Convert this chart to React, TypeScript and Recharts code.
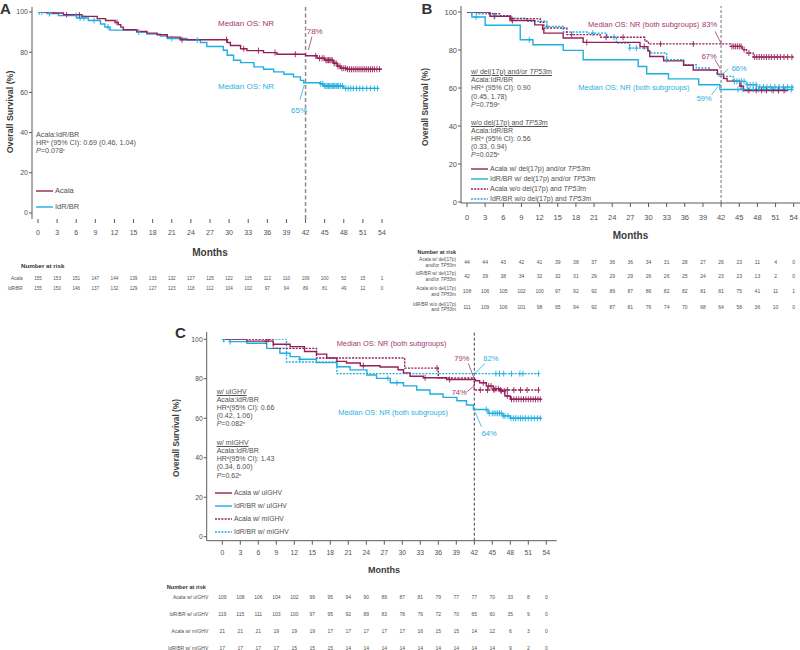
import React from "react";
import { LineChart, Line, XAxis, YAxis, ReferenceLine } from "recharts";

type Step = [number, number];
type Row = { t: number; s: number; c: boolean };

const FONT = '"Liberation Sans", Arial, Helvetica, sans-serif';
const PURPLE = "#951f58";
const CYAN = "#1eaee0";
const PURPLE_TXT = "#a2376b";
const CYAN_TXT = "#2aafe0";
const GRAY = "#505050";
const AXIS = "#5a5a5a";

const months = [0, 3, 6, 9, 12, 15, 18, 21, 24, 27, 30, 33, 36, 39, 42, 45, 48, 51, 54];
const survivalTicks = [0, 20, 40, 60, 80, 100];

// ---------- Panel A: all patients ----------
const acalaA: Step[] = [[0, 100], [2.4, 99.5], [4, 98.7], [6.9, 97.8], [9.3, 96.7], [10.6, 95.8], [12.1, 94.8], [12.6, 93.7], [13, 92.5], [13.4, 91.2], [15.5, 90.3], [17.1, 89.5], [18.7, 88.7], [20.3, 87.5], [22.3, 86.2], [29.7, 84.8], [30.2, 83.3], [31.8, 81.7], [32.8, 80.8], [35.4, 79.8], [37.5, 79], [42, 78.2], [43.8, 77], [45, 76], [46.4, 74.5], [47, 73], [47.5, 72], [48.5, 71.5]];
const acalaAEnd = 54.5;
const acalaACens = [4.5, 6.5, 12.4, 22.6, 29.6, 32.3, 34.6, 37.2, 40.4, 43.6, 44.2, 44.6, 44.9, 45.2, 45.4, 45.6, 45.8, 46.0, 46.2, 46.5, 46.8, 47.1, 47.4, 47.7, 48.0, 48.3, 48.6, 48.9, 49.2, 49.5, 49.8, 50.1, 50.4, 50.7, 51.0, 51.3, 51.6, 51.9, 52.2, 52.5, 52.8, 53.2, 53.6, 54.3];

const idrA: Step[] = [[0, 100], [1.4, 99.2], [3.2, 98.2], [6.1, 97], [7.9, 95.8], [9.8, 94], [10.5, 92.5], [11.3, 91], [15.5, 90], [17.1, 89], [19.2, 88], [20.3, 86.8], [23.4, 86], [25.5, 84.8], [26.5, 82.8], [29.1, 81], [29.7, 78.5], [30.7, 76], [31.8, 74.8], [33.9, 72.7], [35.4, 71.5], [37, 70.2], [38.6, 69], [40.1, 67.7], [41.2, 66], [41.7, 64.8], [44.3, 64.2], [44.8, 63.2], [48, 62]];
const idrAEnd = 53.5;
const idrACens = [0.2, 0.6, 1.8, 6.0, 6.6, 7.2, 8.8, 11.0, 15.8, 21.0, 25.0, 44.4, 44.7, 45.0, 45.2, 45.4, 45.6, 45.8, 46.0, 46.2, 46.4, 46.6, 46.8, 47.0, 47.2, 47.5, 47.8, 48.3, 48.7, 49.1, 49.5, 50.0, 50.5, 51.0, 51.6, 52.2, 52.8, 53.3];

const riskA = {
  Acala: [155, 153, 151, 147, 144, 139, 133, 132, 127, 125, 122, 115, 112, 110, 109, 100, 52, 15, 1],
  "IdR/BR": [155, 150, 146, 137, 132, 129, 127, 123, 118, 112, 104, 102, 97, 94, 89, 81, 49, 12, 0],
};

// ---------- Panel B: del(17p)/TP53m ----------
const acalaDel: Step[] = [[0, 100], [3.8, 97.7], [7.1, 95.5], [11.2, 93.2], [12.5, 90.9], [12.7, 88.9], [15.9, 86.3], [19.2, 84], [28.6, 81.8], [29.9, 79.5], [30.2, 76.6], [32.5, 74.3], [35.8, 72], [37.4, 69.5], [41.4, 67.3], [42.4, 65], [43, 63.6], [45.1, 61], [45.7, 58.7]];
const acalaDelEnd = 53.1;
const acalaDelCens = [4.5, 7.5, 19.8, 29.3, 45.3, 46.6, 47.8, 48.7, 49.5, 50.6, 51.5, 52.4];

const idrDel: Step[] = [[0, 100], [0.8, 97.4], [3, 93], [8.8, 85.4], [10.9, 82.8], [15.9, 79.8], [19.2, 74.9], [28.3, 71.3], [29.7, 67.5], [33.3, 64.8], [38.3, 61.7], [41.8, 59.2]];
const idrDelEnd = 54;
const idrDelCens = [1.5, 10.3, 44.8, 45.6, 46.4, 47.3, 48.2, 49.2, 50.3, 51.4, 52.6, 53.6];

const acalaWo: Step[] = [[0, 100], [3.5, 99.1], [5.4, 98.1], [7.1, 96.5], [12.1, 94.6], [12.7, 91.6], [16.5, 88.1], [22, 86.7], [29.4, 84.6], [30, 83.2], [43.5, 81.9], [45.5, 80.2], [46.2, 78.4], [47.3, 76.3]];
const acalaWoEnd = 54.5;
const acalaWoCens = [7.4, 17.3, 23, 25.8, 32, 37.4, 43.8, 44.1, 44.4, 44.7, 45.0, 45.3, 45.8, 46.6, 47.5, 47.9, 48.3, 48.7, 49.1, 49.5, 49.9, 50.3, 50.8, 51.3, 51.8, 52.4, 53.0, 53.7, 54.3];

const idrWo: Step[] = [[0, 100], [1.6, 99.1], [3.8, 98.1], [7.1, 96.8], [9.9, 95.1], [13.2, 92.4], [15.9, 89.5], [19.8, 88.9], [23.1, 86.8], [24.7, 83.6], [26.9, 81], [29.7, 80.1], [30.2, 78.4], [33, 74.9], [35.8, 72.3], [37.9, 70.5], [40.2, 69.6], [41.3, 66.9], [41.8, 66.1], [44, 63.5], [46.2, 61.7], [47.9, 60.5]];
const idrWoEnd = 54.3;
const idrWoCens = [0.8, 4.6, 13.2, 20.8, 24.3, 26.9, 28, 33, 44.2, 44.6, 45.0, 45.4, 45.8, 46.3, 46.8, 47.3, 47.8, 48.4, 49.0, 49.6, 50.2, 50.9, 51.6, 52.3, 53.0, 53.7, 54.3];

const riskB: { label: [string, string]; values: number[] }[] = [
  { label: ["Acala w/ del(17p)", "and/or TP53m"], values: [44, 44, 43, 42, 41, 39, 38, 37, 36, 36, 34, 31, 28, 27, 26, 23, 11, 4, 0] },
  { label: ["IdR/BR w/ del(17p)", "and/or TP53m"], values: [42, 39, 38, 34, 32, 32, 31, 29, 29, 29, 26, 26, 25, 24, 23, 23, 13, 2, 0] },
  { label: ["Acala w/o del(17p)", "and TP53m"], values: [108, 106, 105, 102, 100, 97, 92, 92, 89, 87, 86, 82, 82, 81, 81, 75, 41, 11, 1] },
  { label: ["IdR/BR w/o del(17p)", "and TP53m"], values: [111, 109, 106, 101, 98, 95, 94, 92, 87, 81, 76, 74, 70, 68, 64, 58, 36, 10, 0] },
];

// ---------- Panel C: IGHV ----------
const acalaU: Step[] = [[0, 100], [4.1, 99.1], [8.5, 97.5], [11.3, 96.3], [13.7, 93.8], [15.7, 92.5], [17.4, 90.5], [19.1, 88.8], [20.7, 88], [23, 86.6], [26.3, 86], [29.3, 84.6], [30.2, 83], [31.3, 81.3], [33.5, 80.5], [37.4, 79.6], [42.2, 79], [42.9, 78], [44, 76.3], [45.2, 75], [46.3, 73.8], [47.1, 71.3], [48, 69.6]];
const acalaUEnd = 53.2;
const acalaUCens = [7.3, 23.5, 33.8, 37.9, 43.5, 44.4, 44.8, 45.2, 45.6, 46.0, 46.5, 47.0, 47.5, 48.2, 48.6, 49.0, 49.4, 49.8, 50.2, 50.6, 51.0, 51.4, 51.8, 52.2, 52.6, 53.0];

const idrU: Step[] = [[0, 100], [1.3, 98.8], [4.1, 98], [7.4, 95.4], [9.6, 92.9], [11.3, 91.2], [12.9, 89.9], [15.7, 88.2], [19.1, 86.1], [21.3, 84.5], [24.1, 81.9], [25.7, 80.2], [28, 78], [30.2, 76.4], [32.4, 74.3], [34.6, 72.3], [36.8, 70.6], [39.1, 68.9], [40.7, 66.7], [41.85, 64.4], [44.3, 62.5], [46.8, 61.2], [48, 60]];
const idrUEnd = 53.2;
const idrUCens = [0.2, 1.3, 12.9, 27.6, 29.1, 44.0, 44.5, 45.0, 45.3, 45.6, 45.9, 46.2, 46.5, 46.8, 47.1, 47.6, 48.1, 48.5, 48.9, 49.3, 49.7, 50.1, 50.5, 51.0, 51.5, 52.0, 52.5, 53.0];

const acalaM: Step[] = [[0, 100], [8.5, 95.4], [15.7, 90.5], [30.4, 85.4], [36, 80.4], [42, 74.3]];
const acalaMEnd = 52.7;
const acalaMCens = [7.7, 35.8, 43.0, 44.2, 45.3, 46.4, 47.5, 48.6, 49.7, 50.8, 52.7];

const idrM: Step[] = [[0, 100], [10.7, 88.5], [19.1, 82.6]];
const idrMEnd = 52.7;
const idrMCens = [0.3, 45.6, 46.2, 46.9, 48.2, 49.6, 50.1, 52.7];

const riskC: { label: string; values: number[] }[] = [
  { label: "Acala w/ uIGHV", values: [109, 108, 106, 104, 102, 99, 95, 94, 90, 89, 87, 81, 79, 77, 77, 70, 33, 8, 0] },
  { label: "IdR/BR w/ uIGHV", values: [119, 115, 111, 103, 100, 97, 95, 92, 89, 83, 78, 76, 72, 70, 65, 60, 35, 9, 0] },
  { label: "Acala w/ mIGHV", values: [21, 21, 21, 19, 19, 19, 17, 17, 17, 17, 17, 16, 15, 15, 14, 12, 6, 3, 0] },
  { label: "IdR/BR w/ mIGHV", values: [17, 17, 17, 17, 15, 15, 15, 14, 14, 14, 14, 14, 14, 14, 14, 14, 9, 2, 0] },
];

// step value at time t (for placing censor ticks on the curve)
function kmRows(steps: Step[], end: number, censored: number[]): Row[] {
  const valueAt = (t: number) => {
    let v = steps[0][1];
    for (const [st, s] of steps) if (st <= t) v = s;
    return v;
  };
  const rows: Row[] = steps.map(([t, s]) => ({ t, s, c: false }));
  censored.forEach((t) => rows.push({ t, s: valueAt(t), c: true }));
  rows.push({ t: end, s: steps[steps.length - 1][1], c: false });
  return rows.sort((a, b) => a.t - b.t);
}

const censorDot = (props: any) => {
  const { cx, cy, payload, stroke, index } = props;
  if (!payload || !payload.c || cx == null) return <g key={`d${index}`} />;
  return (
    <path
      key={`d${index}`}
      d={`M${cx},${cy - 3}V${cy + 3}M${cx - 2},${cy}H${cx + 2}`}
      stroke={stroke}
      strokeWidth={0.9}
      fill="none"
    />
  );
};

type SeriesDef = { rows: Row[]; color: string; dotted?: boolean };
type Leader = { from: [number, number]; to: [number, number]; color: string };

interface PanelProps {
  left: number;
  top: number;
  width: number;
  height: number;
  margin: { top: number; right: number; bottom: number; left: number };
  yWidth: number;
  xPad: { left: number; right: number };
  yPad: { top: number; bottom: number };
  showXLine: boolean;
  tickFont: number;
  tickMargin: number;
  refStroke: string;
  refDash: string;
  refWidth: number;
  series: SeriesDef[];
  leaders: Leader[];
}

function KMPanel(p: PanelProps) {
  const tick = { fontSize: p.tickFont, fill: GRAY, fontFamily: FONT };
  return (
    <div style={{ position: "absolute", left: p.left, top: p.top }}>
      <LineChart width={p.width} height={p.height} margin={p.margin}>
        <XAxis
          type="number"
          dataKey="t"
          domain={[0, 54]}
          allowDataOverflow
          ticks={months}
          interval={0}
          padding={p.xPad}
          height={20}
          tickSize={4}
          tickMargin={p.tickMargin}
          axisLine={p.showXLine ? { stroke: AXIS } : false}
          tickLine={{ stroke: AXIS }}
          tick={tick}
        />
        <YAxis
          type="number"
          domain={[0, 100]}
          allowDataOverflow
          ticks={survivalTicks}
          interval={0}
          padding={p.yPad}
          width={p.yWidth}
          tickSize={3}
          tickMargin={1}
          axisLine={{ stroke: AXIS }}
          tickLine={{ stroke: AXIS }}
          tick={tick}
        />
        <ReferenceLine x={42} stroke={p.refStroke} strokeDasharray={p.refDash} strokeWidth={p.refWidth} />
        {p.series.map((s, i) => (
          <Line
            key={i}
            data={s.rows}
            dataKey="s"
            type="stepAfter"
            stroke={s.color}
            strokeWidth={1.4}
            strokeDasharray={s.dotted ? "2 1.3" : undefined}
            dot={censorDot}
            activeDot={false}
            isAnimationActive={false}
          />
        ))}
        {p.leaders.map((l, i) => (
          <ReferenceLine
            key={`l${i}`}
            segment={[{ x: l.from[0], y: l.from[1] }, { x: l.to[0], y: l.to[1] }]}
            stroke={l.color}
            strokeWidth={0.8}
          />
        ))}
      </LineChart>
    </div>
  );
}

interface TxtProps {
  x: number;
  y: number;
  size: number;
  color?: string;
  anchor?: "start" | "middle" | "end";
  bold?: boolean;
  underline?: boolean;
  children: React.ReactNode;
}

function Txt({ x, y, size, color = GRAY, anchor = "start", bold, underline, children }: TxtProps) {
  const tx = anchor === "start" ? "0" : anchor === "middle" ? "-50%" : "-100%";
  return (
    <div
      style={{
        position: "absolute",
        left: x,
        top: y,
        transform: `translate(${tx},-50%)`,
        fontSize: size,
        lineHeight: 1.15,
        color,
        fontWeight: bold ? 700 : 400,
        textDecoration: underline ? "underline" : "none",
        whiteSpace: "nowrap",
        fontFamily: FONT,
        textAlign: anchor === "end" ? "right" : anchor === "middle" ? "center" : "left",
      }}
    >
      {children}
    </div>
  );
}

function VTitle({ x, y, size }: { x: number; y: number; size: number }) {
  return (
    <div
      style={{
        position: "absolute",
        left: x,
        top: y,
        transform: "translate(-50%,-50%) rotate(-90deg)",
        fontSize: size,
        fontWeight: 700,
        color: "#3c3c3c",
        whiteSpace: "nowrap",
        fontFamily: FONT,
      }}
    >
      Overall Survival (%)
    </div>
  );
}

function LegendItem({ x, y, color, dotted, size, children }: { x: number; y: number; color: string; dotted?: boolean; size: number; children: React.ReactNode }) {
  return (
    <>
      <svg style={{ position: "absolute", left: x, top: y - 2 }} width={17} height={4}>
        <line x1={0} y1={2} x2={17} y2={2} stroke={color} strokeWidth={1.4} strokeDasharray={dotted ? "2 1.2" : undefined} />
      </svg>
      <Txt x={x + 19} y={y} size={size}>{children}</Txt>
    </>
  );
}

const Sup = ({ children }: { children: React.ReactNode }) => (
  <sup style={{ fontSize: "0.6em", verticalAlign: "0.5em", lineHeight: 0 }}>{children}</sup>
);
const tp53 = (rest: string) => (
  <>
    <i>TP53</i>
    {rest}
  </>
);

function withTP53(text: string) {
  const idx = text.indexOf("TP53");
  if (idx < 0) return text;
  return (
    <>
      {text.slice(0, idx)}
      {tp53(text.slice(idx + 4))}
    </>
  );
}

export default function App() {
  const aX0 = 38, aPm = 6.37;
  const bX0 = 467, bPm = 6.05;
  const cX0 = 222.3, cPm = 6.0;

  return (
    <div style={{ position: "absolute", left: 0, top: 0, width: 800, height: 650, background: "#fff", overflow: "hidden", fontFamily: FONT }}>
      {/* ---------------- Panel A ---------------- */}
      <KMPanel
        left={0}
        top={0}
        width={400}
        height={240}
        margin={{ top: 7, right: 12, bottom: 1, left: 0 }}
        yWidth={32}
        xPad={{ left: 6, right: 6 }}
        yPad={{ top: 5, bottom: 6 }}
        showXLine={false}
        tickFont={7}
        tickMargin={7}
        refStroke="#8c8c8c"
        refDash="4 2.5"
        refWidth={1.5}
        series={[
          { rows: kmRows(idrA, idrAEnd, idrACens), color: CYAN },
          { rows: kmRows(acalaA, acalaAEnd, acalaACens), color: PURPLE },
        ]}
        leaders={[
          { from: [43, 87.7], to: [42.45, 81.1], color: PURPLE_TXT },
          { from: [41.8, 63.7], to: [41.1, 56.2], color: CYAN_TXT },
        ]}
      />
      <Txt x={0} y={9} size={15} bold color="#333">A</Txt>
      <VTitle x={9.5} y={112} size={8.8} />
      <Txt x={218} y={24} size={8} color={PURPLE_TXT}>Median OS: NR</Txt>
      <Txt x={218} y={87.3} size={8} color={CYAN_TXT}>Median OS: NR</Txt>
      <Txt x={306.7} y={32.3} size={8} color={PURPLE_TXT}>78%</Txt>
      <Txt x={291} y={111} size={8} color={CYAN_TXT}>65%</Txt>
      <Txt x={36} y={134.5} size={7.2}>Acala:IdR/BR</Txt>
      <Txt x={36} y={142.8} size={7.2}>HR<Sup>b</Sup> (95% CI): 0.69 (0.46, 1.04)</Txt>
      <Txt x={36} y={151.4} size={7.2}><i>P</i>=0.078<Sup>c</Sup></Txt>
      <LegendItem x={36} y={190.7} color={PURPLE} size={7.5}>Acala</LegendItem>
      <LegendItem x={36} y={206.8} color={CYAN} size={7.5}>IdR/BR</LegendItem>
      <Txt x={210} y={253} size={10} bold color="#3c3c3c" anchor="middle">Months</Txt>
      <Txt x={21} y={266} size={6.2} bold color="#333">Number at risk</Txt>
      {Object.entries(riskA).map(([label, values], r) => (
        <React.Fragment key={label}>
          <Txt x={22.5} y={279 + r * 10} size={4.6} anchor="end">{label}</Txt>
          {values.map((v, i) => (
            <Txt key={i} x={aX0 + months[i] * aPm} y={279 + r * 10} size={4.6} anchor="middle">{v}</Txt>
          ))}
        </React.Fragment>
      ))}

      {/* ---------------- Panel B ---------------- */}
      <KMPanel
        left={400}
        top={0}
        width={400}
        height={225}
        margin={{ top: 6, right: 0, bottom: 2, left: 0 }}
        yWidth={61}
        xPad={{ left: 6, right: 6.3 }}
        yPad={{ top: 6, bottom: 1 }}
        showXLine
        tickFont={7.5}
        tickMargin={8}
        refStroke="#9a9a9a"
        refDash="3 2"
        refWidth={1.4}
        series={[
          { rows: kmRows(idrWo, idrWoEnd, idrWoCens), color: CYAN, dotted: true },
          { rows: kmRows(idrDel, idrDelEnd, idrDelCens), color: CYAN },
          { rows: kmRows(acalaWo, acalaWoEnd, acalaWoCens), color: PURPLE, dotted: true },
          { rows: kmRows(acalaDel, acalaDelEnd, acalaDelCens), color: PURPLE },
        ]}
        leaders={[
          { from: [41, 89.8], to: [42.1, 82.8], color: PURPLE_TXT },
          { from: [41, 74.9], to: [41.9, 70], color: PURPLE_TXT },
          { from: [43.2, 70], to: [42.1, 67], color: CYAN_TXT },
          { from: [40.4, 56.4], to: [41.5, 60.8], color: CYAN_TXT },
        ]}
      />
      <Txt x={421.5} y={9} size={15} bold color="#333">B</Txt>
      <VTitle x={425} y={106.7} size={8.3} />
      <Txt x={588} y={25} size={7.5} color={PURPLE_TXT}>Median OS: NR (both subgroups)</Txt>
      <Txt x={702} y={25} size={7.6} color={PURPLE_TXT}>83%</Txt>
      <Txt x={701.7} y={57} size={7.5} color={PURPLE_TXT}>67%</Txt>
      <Txt x={731.7} y={69} size={7.5} color={CYAN_TXT}>66%</Txt>
      <Txt x={578.3} y={87.7} size={7.5} color={CYAN_TXT}>Median OS: NR (both subgroups)</Txt>
      <Txt x={696.7} y={99} size={7.5} color={CYAN_TXT}>59%</Txt>
      <Txt x={471} y={71.7} size={7} underline>w/ del(17p) and/or {tp53("m")}</Txt>
      <Txt x={471} y={80} size={7}>Acala:IdR/BR</Txt>
      <Txt x={471} y={88.3} size={7}>HR<Sup>d</Sup> (95% CI): 0.90</Txt>
      <Txt x={471} y={96.7} size={7}>(0.45, 1.78)</Txt>
      <Txt x={471} y={104.8} size={7}><i>P</i>=0.759<Sup>e</Sup></Txt>
      <Txt x={471} y={122.5} size={7} underline>w/o del(17p) and {tp53("m")}</Txt>
      <Txt x={471} y={130.7} size={7}>Acala:IdR/BR</Txt>
      <Txt x={471} y={138.6} size={7}>HR<Sup>d</Sup> (95% CI): 0.56</Txt>
      <Txt x={471} y={146.7} size={7}>(0.33, 0.94)</Txt>
      <Txt x={471} y={154.6} size={7}><i>P</i>=0.025<Sup>e</Sup></Txt>
      <LegendItem x={471} y={169} color={PURPLE} size={7}>Acala w/ del(17p) and/or {tp53("m")}</LegendItem>
      <LegendItem x={471} y={179} color={CYAN} size={7}>IdR/BR w/ del(17p) and/or {tp53("m")}</LegendItem>
      <LegendItem x={471} y={189} color={PURPLE} dotted size={7}>Acala w/o del(17p) and {tp53("m")}</LegendItem>
      <LegendItem x={471} y={199} color={CYAN} dotted size={7}>IdR/BR w/o del(17p) and {tp53("m")}</LegendItem>
      <Txt x={630.5} y={235.7} size={10} bold color="#3c3c3c" anchor="middle">Months</Txt>
      <Txt x={456} y={251.7} size={5.5} bold color="#333" anchor="end">Number at risk</Txt>
      {riskB.map((row, r) => {
        const y = [262.7, 277, 291.7, 307.5][r];
        return (
          <React.Fragment key={r}>
            <Txt x={456} y={y - 2.9} size={4.8} anchor="end">{row.label[0]}</Txt>
            <Txt x={456} y={y + 2.9} size={4.8} anchor="end">{withTP53(row.label[1])}</Txt>
            {row.values.map((v, i) => (
              <Txt key={i} x={bX0 + months[i] * bPm} y={y} size={5} anchor="middle">{v}</Txt>
            ))}
          </React.Fragment>
        );
      })}

      {/* ---------------- Panel C ---------------- */}
      <KMPanel
        left={140}
        top={325}
        width={430}
        height={240}
        margin={{ top: 7, right: 13.3, bottom: 4.3, left: 0 }}
        yWidth={66.7}
        xPad={{ left: 15.6, right: 10.4 }}
        yPad={{ top: 7.3, bottom: 4 }}
        showXLine
        tickFont={6.8}
        tickMargin={5}
        refStroke="#444"
        refDash="3 2"
        refWidth={1}
        series={[
          { rows: kmRows(idrM, idrMEnd, idrMCens), color: CYAN, dotted: true },
          { rows: kmRows(idrU, idrUEnd, idrUCens), color: CYAN },
          { rows: kmRows(acalaM, acalaMEnd, acalaMCens), color: PURPLE, dotted: true },
          { rows: kmRows(acalaU, acalaUEnd, acalaUCens), color: PURPLE },
        ]}
        leaders={[
          { from: [41, 87.8], to: [41.95, 80.3], color: PURPLE_TXT },
          { from: [43.8, 87.8], to: [42.1, 82.8], color: CYAN_TXT },
          { from: [40.7, 73.2], to: [41.95, 76.4], color: PURPLE_TXT },
          { from: [43.2, 55.7], to: [42.1, 63.3], color: CYAN_TXT },
        ]}
      />
      <Txt x={175} y={333} size={15} bold color="#333">C</Txt>
      <VTitle x={176} y={438} size={8.3} />
      <Txt x={336.7} y={344.3} size={7.4} color={PURPLE_TXT}>Median OS: NR (both subgroups)</Txt>
      <Txt x={338.3} y={413.3} size={7.4} color={CYAN_TXT}>Median OS: NR (both subgroups)</Txt>
      <Txt x={454.3} y={359} size={7.5} color={PURPLE_TXT}>79%</Txt>
      <Txt x={483.3} y={359} size={7.5} color={CYAN_TXT}>82%</Txt>
      <Txt x={451.7} y={392.7} size={7.5} color={PURPLE_TXT}>74%</Txt>
      <Txt x={481.7} y={434.3} size={7.5} color={CYAN_TXT}>64%</Txt>
      <Txt x={216.7} y={391.7} size={7} underline>w/ uIGHV</Txt>
      <Txt x={216.7} y={399.7} size={7}>Acala:IdR/BR</Txt>
      <Txt x={216.7} y={407.7} size={7}>HR<Sup>d</Sup>(95% CI): 0.66</Txt>
      <Txt x={216.7} y={415.7} size={7}>(0.42, 1.06)</Txt>
      <Txt x={216.7} y={423.7} size={7}><i>P</i>=0.082<Sup>e</Sup></Txt>
      <Txt x={216.7} y={442.7} size={7} underline>w/ mIGHV</Txt>
      <Txt x={216.7} y={450.7} size={7}>Acala:IdR/BR</Txt>
      <Txt x={216.7} y={459.3} size={7}>HR<Sup>d</Sup>(95% CI): 1.43</Txt>
      <Txt x={216.7} y={467.3} size={7}>(0.34, 6.00)</Txt>
      <Txt x={216.7} y={475.5} size={7}><i>P</i>=0.62<Sup>e</Sup></Txt>
      <LegendItem x={215} y={493.3} color={PURPLE} size={6.8}>Acala w/ uIGHV</LegendItem>
      <LegendItem x={215} y={506} color={CYAN} size={6.8}>IdR/BR w/ uIGHV</LegendItem>
      <LegendItem x={215} y={519} color={PURPLE} dotted size={6.8}>Acala w/ mIGHV</LegendItem>
      <LegendItem x={215} y={531.7} color={CYAN} dotted size={6.8}>IdR/BR w/ mIGHV</LegendItem>
      <Txt x={384} y={570} size={9} bold color="#3c3c3c" anchor="middle">Months</Txt>
      <Txt x={166.7} y={586.7} size={5.6} bold color="#333">Number at risk</Txt>
      {riskC.map((row, r) => {
        const y = 598.3 + r * 16.8;
        return (
          <React.Fragment key={r}>
            <Txt x={208.3} y={y} size={5} anchor="end">{row.label}</Txt>
            {row.values.map((v, i) => (
              <Txt key={i} x={cX0 + months[i] * cPm} y={y} size={5} anchor="middle">{v}</Txt>
            ))}
          </React.Fragment>
        );
      })}
    </div>
  );
}
